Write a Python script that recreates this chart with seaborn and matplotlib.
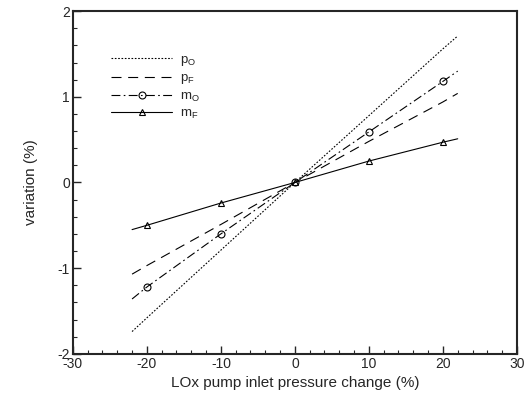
import pandas as pd
import matplotlib.pyplot as plt
import seaborn as sns
from matplotlib.ticker import MultipleLocator

# data
dp = [-22, -20, -10, 0, 10, 20, 22]
p_O = [-1.74, -1.58, -0.79, 0.0, 0.78, 1.56, 1.71]
p_F = [-1.07, -0.97, -0.49, 0.0, 0.48, 0.94, 1.04]
m_O = [-1.36, -1.22, -0.60, 0.0, 0.59, 1.18, 1.30]
m_F = [-0.55, -0.50, -0.24, 0.0, 0.25, 0.47, 0.51]

labels = [r'$\mathregular{p_O}$', r'$\mathregular{p_F}$',
          r'$\mathregular{m_O}$', r'$\mathregular{m_F}$']

df = pd.DataFrame({'dp': dp, 'p_O': p_O, 'p_F': p_F, 'm_O': m_O, 'm_F': m_F})

sns.set_style('ticks')
plt.rcParams['font.family'] = ['Liberation Sans', 'DejaVu Sans']
plt.rcParams['mathtext.fontset'] = 'custom'
plt.rcParams['mathtext.rm'] = 'Liberation Sans'
plt.rcParams['axes.unicode_minus'] = False

fig = plt.figure(figsize=(5.28, 3.98), dpi=100)
ax = fig.add_axes([0.138, 0.111, 0.841, 0.861])

styles = {
    'p_O': dict(linestyle=(0, (1.5, 1.5)), marker=None),
    'p_F': dict(linestyle=(0, (9, 6)), marker=None),
    'm_O': dict(linestyle=(0, (8, 3, 1.5, 3)), marker='o', markersize=5,
                markerfacecolor='none', markeredgecolor='black',
                markeredgewidth=0.8, markevery=[1, 2, 3, 4, 5]),
    'm_F': dict(linestyle='-', marker='^', markersize=4.5,
                markerfacecolor='none', markeredgecolor='black',
                markeredgewidth=0.8, markevery=[1, 2, 3, 4, 5]),
}

for col, lab in zip(['p_O', 'p_F', 'm_O', 'm_F'], labels):
    sns.lineplot(data=df, x='dp', y=col, ax=ax, color='black', linewidth=0.8,
                 label=lab, **styles[col])

ax.set_xlim(-30, 30)
ax.set_ylim(-2, 2)
ax.xaxis.set_major_locator(MultipleLocator(10))
ax.xaxis.set_minor_locator(MultipleLocator(2))
ax.yaxis.set_major_locator(MultipleLocator(1))
ax.yaxis.set_minor_locator(MultipleLocator(0.2))
ax.tick_params(which='both', direction='in', top=False, right=False,
               labelsize=10, pad=2)
ax.tick_params(which='major', length=6, width=1)
ax.tick_params(which='minor', length=3, width=0.8)
for s in ax.spines.values():
    s.set_linewidth(1.5)

ax.set_xlabel('LOx pump inlet pressure change (%)', fontsize=11)
ax.set_ylabel('variation (%)', fontsize=11, labelpad=14)

ax.legend(loc='upper left', bbox_to_anchor=(0.06, 0.91), frameon=False,
          fontsize=9.5, handlelength=4.6, labelspacing=0.3, handletextpad=0.6)

fig.savefig('out.png', dpi=100)
